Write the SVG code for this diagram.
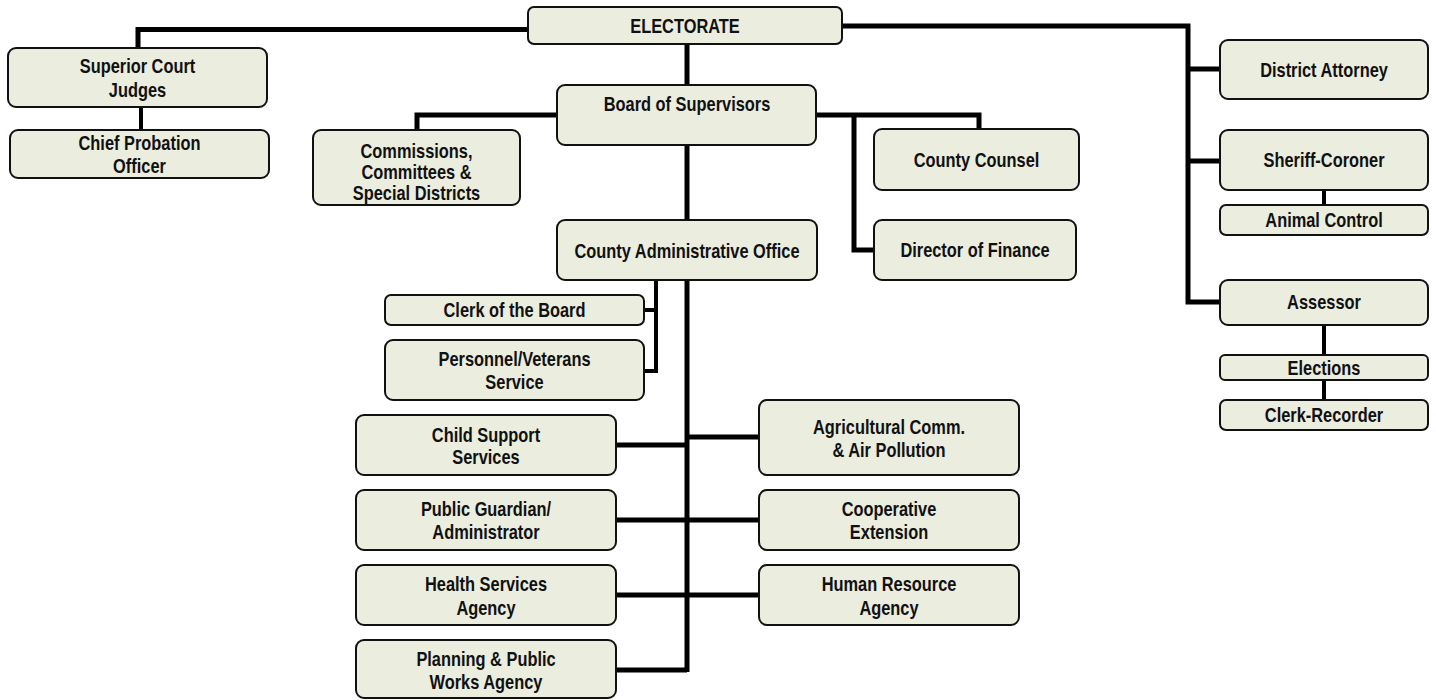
<svg xmlns="http://www.w3.org/2000/svg" width="1436" height="700" viewBox="0 0 1436 700">
<style>
.b{fill:#EBEDDF;stroke:#111;stroke-width:2}
.t{font-family:"Liberation Sans",Arial,sans-serif;font-weight:bold;font-size:20px;fill:#111;text-anchor:middle}
.c{fill:none;stroke:#000;stroke-width:5;stroke-linejoin:miter}
.c2{fill:none;stroke:#000;stroke-width:4}
</style>
<rect width="1436" height="700" fill="#fff"/>
<g id="connectors">
<path class="c" d="M528,29.5 H138 V48"/>
<path class="c2" d="M141,107 V130"/>
<path class="c" d="M842,26 H1188 V302 H1220 M1188,69 H1220 M1188,161 H1220"/>
<path class="c2" d="M1324,190 V205 M1324,325 V355 M1324,380 V400"/>
<path class="c" d="M687,44 V85"/>
<path class="c" d="M557,115 H417 V130"/>
<path class="c" d="M816,115 H979 V129 M854,115 V250 H874"/>
<path class="c" d="M687,145 V220"/>
<path class="c2" d="M644,310 H656 M656,280 V371 H644"/>
<path class="c" d="M687,280 V672 M616,445 H687 M687,437 H759 M616,520 H759 M616,595 H759 M616,670 H687"/>
</g>
<g id="electorate"><rect class="b" x="528" y="7" width="314" height="37" rx="6"/><text class="t" transform="translate(685,33) scale(0.82,1)">ELECTORATE</text></g>
<g id="superior-court"><rect class="b" x="8" y="48" width="259" height="59" rx="8"/><text class="t" transform="translate(137.5,73) scale(0.82,1)"><tspan x="0" y="0">Superior Court</tspan><tspan x="0" y="24">Judges</tspan></text></g>
<g id="chief-probation"><rect class="b" x="10" y="130" width="259" height="48" rx="8"/><text class="t" transform="translate(139.5,150) scale(0.82,1)"><tspan x="0" y="0">Chief Probation</tspan><tspan x="0" y="23">Officer</tspan></text></g>
<g id="commissions"><rect class="b" x="313" y="130" width="207" height="75" rx="8"/><text class="t" transform="translate(416.5,158) scale(0.82,1)"><tspan x="0" y="0">Commissions,</tspan><tspan x="0" y="21">Committees &amp;</tspan><tspan x="0" y="42">Special Districts</tspan></text></g>
<g id="board"><rect class="b" x="557" y="85" width="259" height="60" rx="8"/><text class="t" transform="translate(687,111) scale(0.82,1)">Board of Supervisors</text></g>
<g id="county-counsel"><rect class="b" x="874" y="129" width="205" height="61" rx="8"/><text class="t" transform="translate(976.5,167) scale(0.82,1)">County Counsel</text></g>
<g id="director-finance"><rect class="b" x="874" y="220" width="202" height="60" rx="8"/><text class="t" transform="translate(975,257) scale(0.82,1)">Director of Finance</text></g>
<g id="cao"><rect class="b" x="557" y="220" width="260" height="60" rx="8"/><text class="t" transform="translate(687,258) scale(0.82,1)">County Administrative Office</text></g>
<g id="district-attorney"><rect class="b" x="1220" y="40" width="208" height="59" rx="8"/><text class="t" transform="translate(1324,77) scale(0.82,1)">District Attorney</text></g>
<g id="sheriff"><rect class="b" x="1220" y="130" width="208" height="60" rx="8"/><text class="t" transform="translate(1324,167) scale(0.82,1)">Sheriff-Coroner</text></g>
<g id="animal-control"><rect class="b" x="1220" y="205" width="208" height="30" rx="6"/><text class="t" transform="translate(1324,227) scale(0.82,1)">Animal Control</text></g>
<g id="assessor"><rect class="b" x="1220" y="280" width="208" height="45" rx="8"/><text class="t" transform="translate(1324,309) scale(0.82,1)">Assessor</text></g>
<g id="elections"><rect class="b" x="1220" y="355" width="208" height="25" rx="5"/><text class="t" transform="translate(1324,375) scale(0.82,1)">Elections</text></g>
<g id="clerk-recorder"><rect class="b" x="1220" y="400" width="208" height="30" rx="6"/><text class="t" transform="translate(1324,422) scale(0.82,1)">Clerk-Recorder</text></g>
<g id="clerk-board"><rect class="b" x="385" y="295" width="259" height="30" rx="6"/><text class="t" transform="translate(514.5,317) scale(0.82,1)">Clerk of the Board</text></g>
<g id="personnel"><rect class="b" x="385" y="340" width="259" height="60" rx="8"/><text class="t" transform="translate(514.5,366) scale(0.82,1)"><tspan x="0" y="0">Personnel/Veterans</tspan><tspan x="0" y="23">Service</tspan></text></g>
<g id="child-support"><rect class="b" x="356" y="415" width="260" height="60" rx="8"/><text class="t" transform="translate(486,442) scale(0.82,1)"><tspan x="0" y="0">Child Support</tspan><tspan x="0" y="22">Services</tspan></text></g>
<g id="agricultural"><rect class="b" x="759" y="400" width="260" height="75" rx="8"/><text class="t" transform="translate(889,434) scale(0.82,1)"><tspan x="0" y="0">Agricultural Comm.</tspan><tspan x="0" y="23">&amp; Air Pollution</tspan></text></g>
<g id="public-guardian"><rect class="b" x="356" y="490" width="260" height="60" rx="8"/><text class="t" transform="translate(486,516) scale(0.82,1)"><tspan x="0" y="0">Public Guardian/</tspan><tspan x="0" y="23">Administrator</tspan></text></g>
<g id="cooperative"><rect class="b" x="759" y="490" width="260" height="60" rx="8"/><text class="t" transform="translate(889,516) scale(0.82,1)"><tspan x="0" y="0">Cooperative</tspan><tspan x="0" y="23">Extension</tspan></text></g>
<g id="health"><rect class="b" x="356" y="565" width="260" height="60" rx="8"/><text class="t" transform="translate(486,591) scale(0.82,1)"><tspan x="0" y="0">Health Services</tspan><tspan x="0" y="24">Agency</tspan></text></g>
<g id="human-resource"><rect class="b" x="759" y="565" width="260" height="60" rx="8"/><text class="t" transform="translate(889,591) scale(0.82,1)"><tspan x="0" y="0">Human Resource</tspan><tspan x="0" y="24">Agency</tspan></text></g>
<g id="planning"><rect class="b" x="356" y="640" width="260" height="58" rx="8"/><text class="t" transform="translate(486,666) scale(0.82,1)"><tspan x="0" y="0">Planning &amp; Public</tspan><tspan x="0" y="23">Works Agency</tspan></text></g>
</svg>
